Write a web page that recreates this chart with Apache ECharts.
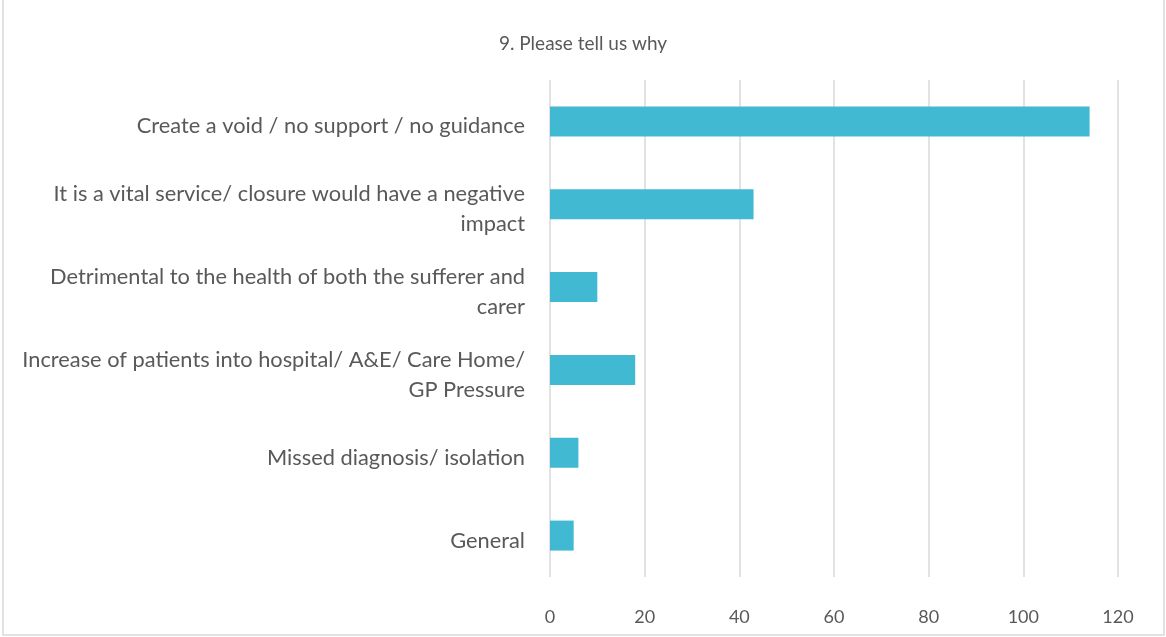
<!DOCTYPE html>
<html>
<head>
<meta charset="utf-8">
<script src="https://cdn.jsdelivr.net/npm/echarts@6/dist/echarts.min.js"></script>
<style>
html,body{margin:0;padding:0;background:#fff;}
#chart{width:1166px;height:637px;}
</style>
</head>
<body>
<div id="chart"></div>
<script>
const titleText = '9. Please tell us why';
const categories = [
  'Create a void / no support / no guidance',
  'It is a vital service/ closure would have a negative\nimpact',
  'Detrimental to the health of both the sufferer and\ncarer',
  'Increase of patients into hospital/ A&E/ Care Home/\nGP Pressure',
  'Missed diagnosis/ isolation',
  'General'
];
const values = [114, 43, 10, 18, 6, 5];
const xTicks = [0, 20, 40, 60, 80, 100, 120];

const chart = echarts.init(document.getElementById('chart'));
chart.setOption({
  animation: false,
  title: {
    text: titleText,
    left: 'center',
    top: 29,
    textStyle: {fontFamily: 'Lato', fontSize: 19, fontWeight: 'normal', color: '#595959'}
  },
  grid: {left: 550, right: 48, top: 80, bottom: 60, containLabel: false},
  xAxis: {
    type: 'value',
    min: xTicks[0],
    max: xTicks[xTicks.length - 1],
    interval: 20,
    position: 'bottom',
    axisLine: {show: false},
    axisTick: {show: false},
    splitLine: {show: true, lineStyle: {color: '#d9d9d9', width: 1.5}},
    axisLabel: {margin: 31, fontFamily: 'Lato', fontSize: 18, color: '#595959'}
  },
  yAxis: {
    type: 'category',
    inverse: true,
    data: categories,
    axisLine: {show: false},
    axisTick: {show: false},
    axisLabel: {
      margin: 25, align: 'right',
      formatter: function (v) {
        return v.split('\n').map(function (s) { return '{a|' + s + '}'; }).join('\n');
      },
      rich: {
        a: {fontFamily: 'Lato', fontSize: 21.8, color: '#595959', lineHeight: 30, padding: [10, 0, 0, 0], align: 'right'}
      }
    }
  },
  series: [{
    type: 'bar',
    data: values,
    barWidth: 30,
    itemStyle: {color: '#41b9d3'}
  }],
  graphic: [{
    type: 'rect',
    shape: {x: 3, y: -5, width: 1161, height: 640},
    style: {fill: 'none', stroke: '#d9d9d9', lineWidth: 1.5},
    silent: true
  }]
});
</script>
</body>
</html>
